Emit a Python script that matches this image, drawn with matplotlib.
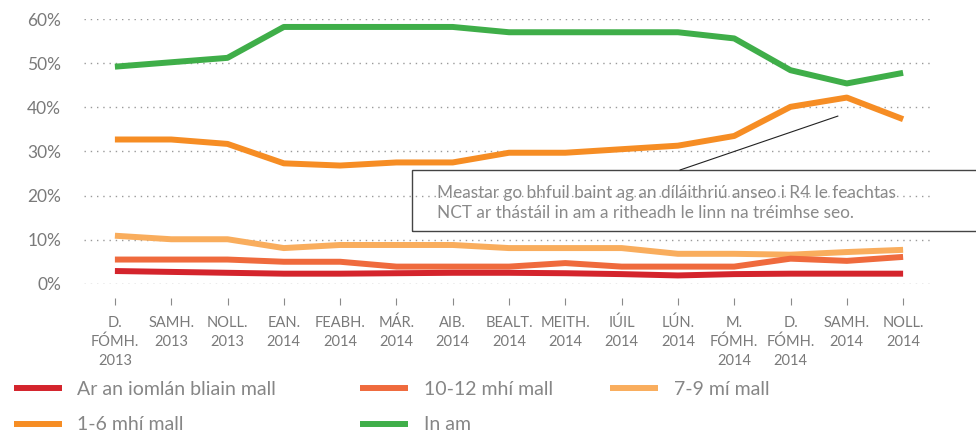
import matplotlib
matplotlib.use("Agg")
import matplotlib.pyplot as plt
from matplotlib.patches import Rectangle
import numpy as np

plt.rcParams['font.family'] = ['Lato', 'DejaVu Sans']

months = ["D.\nFÓMH.\n2013", "SAMH.\n2013", "NOLL.\n2013", "EAN.\n2014", "FEABH.\n2014",
          "MÁR.\n2014", "AIB.\n2014", "BEALT.\n2014", "MEITH.\n2014", "IÚIL\n2014",
          "LÚN.\n2014", "M.\nFÓMH.\n2014", "D.\nFÓMH.\n2014", "SAMH.\n2014", "NOLL.\n2014"]

ar_an_iomlan = [2.9, 2.7, 2.5, 2.3, 2.3, 2.4, 2.5, 2.5, 2.4, 2.2, 1.9, 2.2, 2.3, 2.3, 2.3]
mhi_10_12 = [5.5, 5.5, 5.5, 5.0, 5.0, 3.9, 3.9, 3.9, 4.7, 3.9, 3.9, 3.9, 5.7, 5.2, 6.1]
mi_7_9 = [10.9, 10.1, 10.1, 8.1, 8.8, 8.8, 8.8, 8.1, 8.1, 8.1, 6.8, 6.8, 6.6, 7.2, 7.7]
mhi_1_6 = [32.7, 32.7, 31.7, 27.3, 26.8, 27.5, 27.5, 29.7, 29.7, 30.5, 31.3, 33.5, 40.1, 42.2, 37.3]
in_am = [49.2, 50.2, 51.2, 58.2, 58.2, 58.2, 58.2, 57.0, 57.0, 57.0, 57.0, 55.6, 48.4, 45.4, 47.8]

series = [
    ("Ar an iomlán bliain mall", ar_an_iomlan, "#d4242c"),
    ("10-12 mhí mall", mhi_10_12, "#ef6a3d"),
    ("7-9 mí mall", mi_7_9, "#f9ad5d"),
    ("1-6 mhí mall", mhi_1_6, "#f68d24"),
    ("In am", in_am, "#3fae49"),
]

note = ("Meastar go bhfuil baint ag an díláithriú anseo i R4 le feachtas\n"
        "NCT ar thástáil in am a ritheadh le linn na tréimhse seo.")

grey = "#7a7a7a"

fig = plt.figure(figsize=(9.76, 4.32), dpi=100)
ax = fig.add_axes([0.086, 0.343, 0.867, 0.613])

x = np.arange(len(months))
lines = {}
for name, vals, col in series[::-1]:
    ln, = ax.plot(x, vals, color=col, lw=4.3, solid_capstyle='butt', label=name)
    lines[name] = ln

ax.set_xlim(-0.55, 14.48)
ax.set_ylim(0, 60)
ax.set_yticks(range(0, 61, 10))
ax.set_yticklabels([f"{v}%" for v in range(0, 61, 10)], fontsize=12.5, color=grey)
ax.yaxis.grid(True, linestyle=(0, (1, 3.5)), color="#9a9a9a", lw=1.0)
ax.set_axisbelow(True)
ax.tick_params(axis='y', length=0, pad=16.5)
for s in ["top", "right", "left"]:
    ax.spines[s].set_visible(False)
ax.spines["bottom"].set_position(("outward", 10))
ax.spines["bottom"].set_visible(False)
ax.set_xticks(x)
ax.set_xticklabels(months, fontsize=10.5, color=grey, linespacing=1.45)
ax.tick_params(axis='x', length=5, width=0.8, color="#8a8a8a", pad=8)

# annotation box
ax.add_patch(Rectangle((5.28, 12.0), 10.5, 13.8, fill=False, ec="#444444", lw=1.0,
                       clip_on=False, zorder=5))
ax.text(5.72, 18.4, note, fontsize=12.4, color="#8a8a8a", va='center', ha='left',
        linespacing=1.3, zorder=6)
ax.plot([10.04, 12.84], [25.8, 38.0], color="#222222", lw=0.8, clip_on=False, zorder=6)

# legend, one block per column
columns = [(0.014, ["Ar an iomlán bliain mall", "1-6 mhí mall"]),
           (0.369, ["10-12 mhí mall", "In am"]),
           (0.625, ["7-9 mí mall"])]
for xpos, names in columns:
    leg = fig.legend([lines[n] for n in names], names, loc="upper left",
                     bbox_to_anchor=(xpos, 0.118), frameon=False, fontsize=14,
                     handlelength=2.47, handletextpad=0.8, labelspacing=0.95,
                     borderaxespad=0, borderpad=0)
    for t in leg.get_texts():
        t.set_color("#868686")
    for h in leg.legend_handles:
        h.set_linewidth(4.3)

fig.savefig("out.png", dpi=100)
